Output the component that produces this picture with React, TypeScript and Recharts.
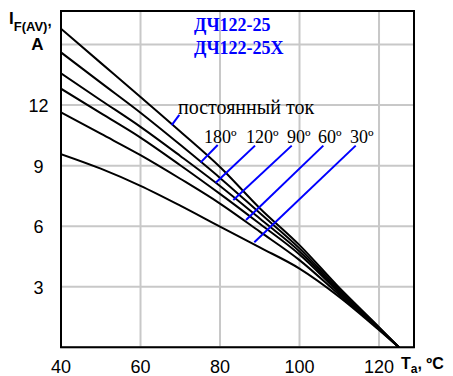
import React from "react";
import {
  LineChart,
  Line,
  XAxis,
  YAxis,
  CartesianGrid,
  ReferenceArea,
  ReferenceLine,
  Customized,
} from "recharts";

const temps = [40, 50, 60, 70, 80, 90, 100, 110, 120, 125];
const dcCurrent = [15.78, 14.09, 12.4, 10.69, 8.93, 6.89, 5.06, 2.95, 1.0, 0];
const deg180 = [14.61, 13.11, 11.62, 10.03, 8.39, 6.65, 4.9, 2.85, 0.97, 0];
const deg120 = [13.57, 12.24, 10.92, 9.48, 7.99, 6.38, 4.75, 2.77, 0.95, 0];
const deg90 = [12.81, 11.6, 10.39, 9.02, 7.6, 6.12, 4.6, 2.7, 0.93, 0];
const deg60 = [11.64, 10.58, 9.52, 8.35, 7.12, 5.73, 4.32, 2.6, 0.9, 0];
const deg30 = [9.57, 8.85, 8.0, 7.02, 5.98, 4.95, 3.9, 2.5, 0.86, 0];

const seriesKeys = ["dc", "d180", "d120", "d90", "d60", "d30"];
const seriesValues = [dcCurrent, deg180, deg120, deg90, deg60, deg30];

const xTicks = [40, 60, 80, 100, 120];
const yTicks = [3, 6, 9, 12, 15];
const yTickLabels = ["3", "6", "9", "12", ""];
const xDomain = [40, 128.8];
const yDomain = [0, 16.66];

// leader lines (data coords): [x1, y1, x2, y2]
const leaders = [
  [69.76, 11.51, 67.85, 11.01],
  [79.42, 10.02, 75.14, 9.16],
  [88.81, 9.99, 78.92, 8.15],
  [98.04, 9.99, 83.35, 7.3],
  [105.99, 9.99, 86.54, 6.31],
  [114.14, 9.99, 88.63, 5.2],
];

const modelNames = ["ДЧ122-25", "ДЧ122-25Х"];
const dcLabel = "постоянный ток";
const angleLabels = ["180º", "120º", "90º", "60º", "30º"];
const angleLabelX = [204, 246, 287, 318, 350];

const data = temps.map((t, i) => {
  const row: Record<string, number> = { t };
  seriesKeys.forEach((k, j) => {
    row[k] = seriesValues[j][i];
  });
  return row;
});

const SANS = "'Liberation Sans', Arial, sans-serif";
const SERIF = "'Liberation Serif', 'Times New Roman', serif";
const BLUE = "#0000ff";

const XTick = (props: any) => {
  const { x, y, payload } = props;
  return (
    <text x={x} y={y + 18} textAnchor="middle" fontFamily={SANS} fontSize={18} fill="#000">
      {payload.value}
    </text>
  );
};

const YTick = (props: any) => {
  const { y, payload } = props;
  const idx = yTicks.indexOf(payload.value);
  const label = idx >= 0 ? yTickLabels[idx] : "";
  if (!label) return <g />;
  return (
    <text x={38.5} y={y + 7} textAnchor="middle" fontFamily={SANS} fontSize={18} fill="#000">
      {label}
    </text>
  );
};

const Annotations = () => (
  <g>
    <text x={9} y={24} fontFamily={SANS} fontWeight="bold" fontSize={17} fill="#000">
      I
      <tspan fontSize={13} dy={7}>F(AV)</tspan>
      <tspan fontSize={15} dy={-5}>,</tspan>
    </text>
    <text x={37.5} y={50} textAnchor="middle" fontFamily={SANS} fontWeight="bold" fontSize={17} fill="#000">
      A
    </text>
    <text x={401} y={369} fontFamily={SANS} fontWeight="bold" fontSize={16} fill="#000">
      T
      <tspan fontSize={12} dy={4}>a</tspan>
      <tspan fontSize={16} dy={-4}>, ºC</tspan>
    </text>
    <text x={194} y={31} fontFamily={SERIF} fontWeight="bold" fontSize={18} fill={BLUE}>
      {modelNames[0]}
    </text>
    <text x={194} y={54} fontFamily={SERIF} fontWeight="bold" fontSize={18} fill={BLUE}>
      {modelNames[1]}
    </text>
    <text x={178} y={114} fontFamily={SERIF} fontSize={20} fill="#000">
      {dcLabel}
    </text>
    {angleLabels.map((l, i) => (
      <text key={l} x={angleLabelX[i]} y={143} fontFamily={SERIF} fontSize={18} fill="#000">
        {l}
      </text>
    ))}
  </g>
);

export default function App() {
  return (
    <div style={{ position: "absolute", left: 0, top: 0, width: 453, height: 376, background: "#fff" }}>
      <LineChart
        width={453}
        height={376}
        data={data}
        margin={{ top: 11, right: 39, bottom: 0, left: 0 }}
      >
        <CartesianGrid stroke="#c8c8c8" strokeWidth={2} />
        <XAxis
          dataKey="t"
          type="number"
          domain={xDomain}
          ticks={xTicks}
          allowDataOverflow
          height={28.7}
          tickLine={false}
          axisLine={false}
          tick={<XTick />}
          interval={0}
        />
        <YAxis
          type="number"
          domain={yDomain}
          ticks={yTicks}
          allowDataOverflow
          width={61}
          tickLine={false}
          axisLine={false}
          tick={<YTick />}
          interval={0}
        />
        {seriesKeys.map((k) => (
          <Line
            key={k}
            dataKey={k}
            type="monotone"
            stroke="#000"
            strokeWidth={2}
            dot={false}
            isAnimationActive={false}
          />
        ))}
        {leaders.map((s, i) => (
          <ReferenceLine
            key={i}
            segment={[
              { x: s[0], y: s[1] },
              { x: s[2], y: s[3] },
            ]}
            stroke={BLUE}
            strokeWidth={2}
            ifOverflow="visible"
          />
        ))}
        <ReferenceArea
          x1={xDomain[0]}
          x2={xDomain[1]}
          y1={yDomain[0]}
          y2={yDomain[1]}
          fill="none"
          fillOpacity={0}
          stroke="#000"
          strokeWidth={2}
          ifOverflow="visible"
        />
        <Customized component={Annotations} />
      </LineChart>
    </div>
  );
}
